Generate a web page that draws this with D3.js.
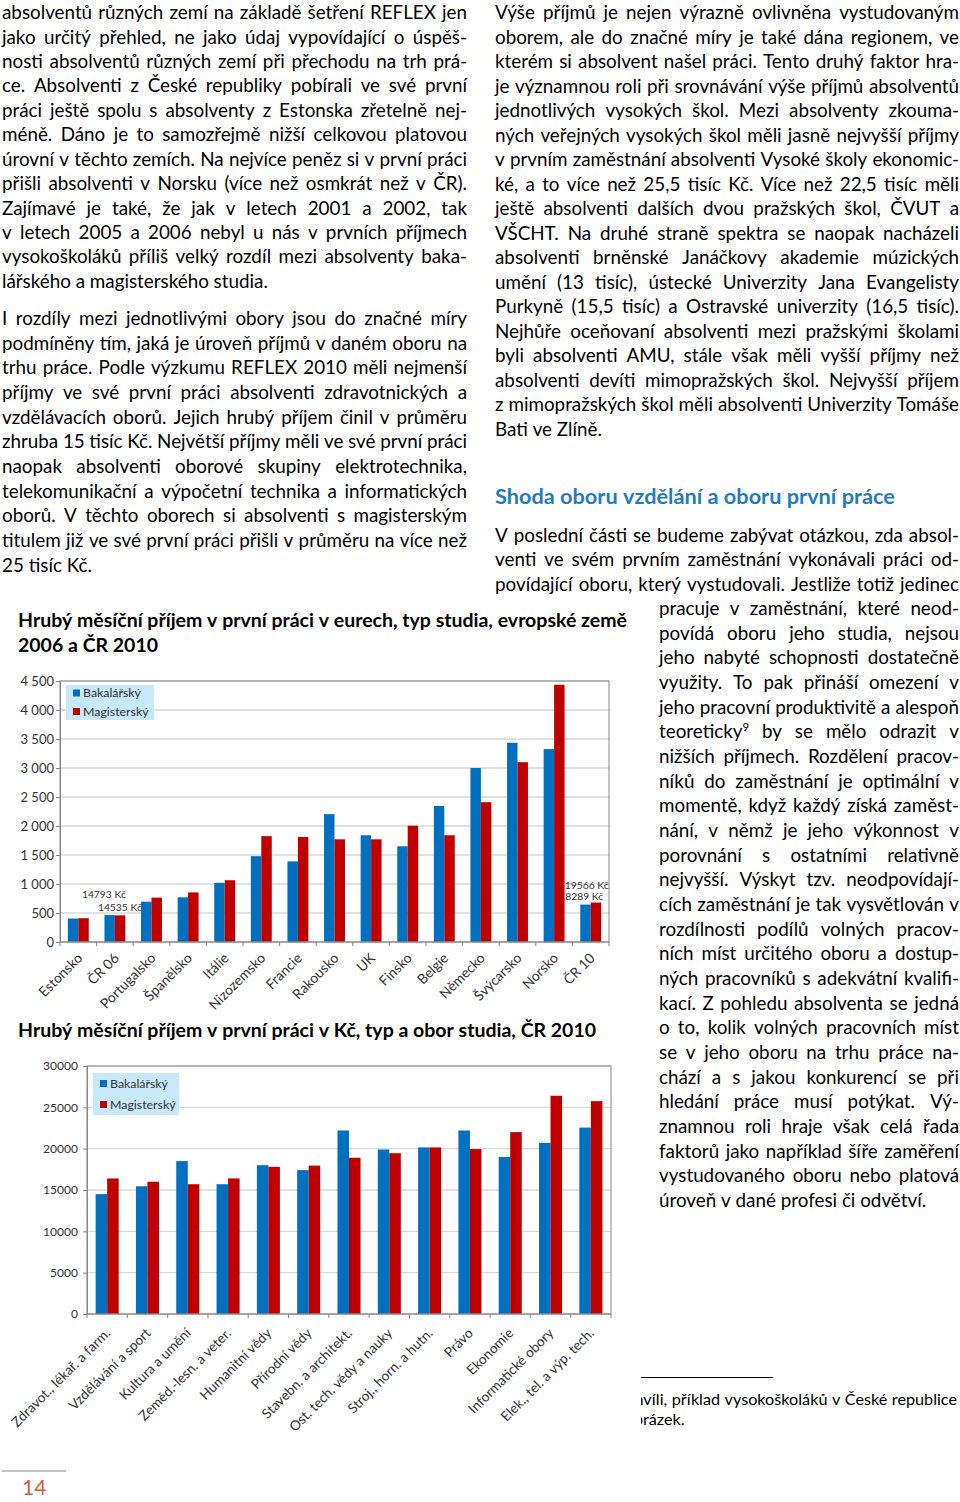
<!DOCTYPE html>
<html lang="cs"><head><meta charset="utf-8">
<script src="https://cdn.jsdelivr.net/npm/d3@7/dist/d3.min.js"></script>
<style>
html,body{margin:0;padding:0;background:#fff;}
#page{position:relative;width:960px;height:1502px;overflow:hidden;}
svg{position:absolute;left:0;top:0;}
</style></head><body><div id="page"></div>
<script>
// ---------- DATA ----------
const countries = ["Estonsko","ČR 06","Portugalsko","Španělsko","Itálie","Nizozemsko","Francie","Rakousko","UK","Finsko","Belgie","Německo","Švýcarsko","Norsko","ČR 10"];
const bak1 = [405, 465, 695, 770, 1020, 1480, 1390, 2205, 1840, 1650, 2345, 3000, 3435, 3325, 645];
const mag1 = [410, 460, 765, 855, 1065, 1825, 1810, 1770, 1770, 2005, 1840, 2410, 3100, 4435, 680];
const ticks1 = [0, 500, 1000, 1500, 2000, 2500, 3000, 3500, 4000, 4500];
const czkLabels1 = [{cat:"ČR 06", text:"14793 Kč"}, {cat:"ČR 06", text:"14535 Kč"}, {cat:"ČR 10", text:"19566 Kč"}, {cat:"ČR 10", text:"18289 Kč"}];

const fields = ["Zdravot., lékař. a farm.","Vzdělávání a sport","Kultura a umění","Zeměd.-lesn. a veter.","Humanitní vědy","Přírodní vědy","Stavebn. a architekt.","Ost. tech. vědy a nauky","Stroj., horn. a hutn.","Právo","Ekonomie","Informatické obory","Elek., tel. a výp. tech."];
const bak2 = [14500, 15450, 18500, 15700, 18000, 17400, 22200, 19900, 20150, 22200, 19000, 20700, 22550];
const mag2 = [16400, 16000, 15700, 16400, 17800, 17950, 18900, 19450, 20150, 19950, 22000, 26400, 25750];
const ticks2 = [0, 5000, 10000, 15000, 20000, 25000, 30000];

const seriesNames = ["Bakalářský", "Magisterský"];

const title1 = ["Hrubý měsíční příjem v první práci v eurech, typ studia, evropské země", "2006 a ČR 2010"];
const title2 = "Hrubý měsíční příjem v první práci v Kč, typ a obor studia, ČR 2010";
const heading = "Shoda oboru vzdělání a oboru první práce";

const leftP1 = [
"absolventů různých zemí na základě šetření REFLEX jen",
"jako určitý přehled, ne jako údaj vypovídající o úspěš-",
"nosti absolventů různých zemí při přechodu na trh prá-",
"ce. Absolventi z České republiky pobírali ve své první",
"práci ještě spolu s absolventy z Estonska zřetelně nej-",
"méně. Dáno je to samozřejmě nižší celkovou platovou",
"úrovní v těchto zemích. Na nejvíce peněz si v první práci",
"přišli absolventi v Norsku (více než osmkrát než v ČR).",
"Zajímavé je také, že jak v letech 2001 a 2002, tak",
"v letech 2005 a 2006 nebyl u nás v prvních příjmech",
"vysokoškoláků příliš velký rozdíl mezi absolventy baka-",
"lářského a magisterského studia."];
const leftP2 = [
"I rozdíly mezi jednotlivými obory jsou do značné míry",
"podmíněny tím, jaká je úroveň příjmů v daném oboru na",
"trhu práce. Podle výzkumu REFLEX 2010 měli nejmenší",
"příjmy ve své první práci absolventi zdravotnických a",
"vzdělávacích oborů. Jejich hrubý příjem činil v průměru",
"zhruba 15 tisíc Kč. Největší příjmy měli ve své první práci",
"naopak absolventi oborové skupiny elektrotechnika,",
"telekomunikační a výpočetní technika a informatických",
"oborů. V těchto oborech si absolventi s magisterským",
"titulem již ve své první práci přišli v průměru na více než",
"25 tisíc Kč."];
const rightP1 = [
"Výše příjmů je nejen výrazně ovlivněna vystudovaným",
"oborem, ale do značné míry je také dána regionem, ve",
"kterém si absolvent našel práci. Tento druhý faktor hra-",
"je významnou roli při srovnávání výše příjmů absolventů",
"jednotlivých vysokých škol. Mezi absolventy zkouma-",
"ných veřejných vysokých škol měli jasně nejvyšší příjmy",
"v prvním zaměstnání absolventi Vysoké školy ekonomic-",
"ké, a to více než 25,5 tisíc Kč. Více než 22,5 tisíc měli",
"ještě absolventi dalších dvou pražských škol, ČVUT a",
"VŠCHT. Na druhé straně spektra se naopak nacházeli",
"absolventi brněnské Janáčkovy akademie múzických",
"umění (13 tisíc), ústecké Univerzity Jana Evangelisty",
"Purkyně (15,5 tisíc) a Ostravské univerzity (16,5 tisíc).",
"Nejhůře oceňovaní absolventi mezi pražskými školami",
"byli absolventi AMU, stále však měli vyšší příjmy než",
"absolventi devíti mimopražských škol. Nejvyšší příjem",
"z mimopražských škol měli absolventi Univerzity Tomáše",
"Bati ve Zlíně."];
const rightP2a = [
"V poslední části se budeme zabývat otázkou, zda absol-",
"venti ve svém prvním zaměstnání vykonávali práci od-",
"povídající oboru, který vystudovali. Jestliže totiž jedinec"];
const rightP2b = [
"pracuje v zaměstnání, které neod-",
"povídá oboru jeho studia, nejsou",
"jeho nabyté schopnosti dostatečně",
"využity. To pak přináší omezení v",
"jeho pracovní produktivitě a alespoň",
"teoreticky^9 by se mělo odrazit v",
"nižších příjmech. Rozdělení pracov-",
"níků do zaměstnání je optimální v",
"momentě, když každý získá zaměst-",
"nání, v němž je jeho výkonnost v",
"porovnání s ostatními relativně",
"nejvyšší. Výskyt tzv. neodpovídají-",
"cích zaměstnání je tak vysvětlován v",
"rozdílnosti podílů volných pracov-",
"ních míst určitého oboru a dostup-",
"ných pracovníků s adekvátní kvalifi-",
"kací. Z pohledu absolventa se jedná",
"o to, kolik volných pracovních míst",
"se v jeho oboru na trhu práce na-",
"chází a s jakou konkurencí se při",
"hledání práce musí potýkat. Vý-",
"znamnou roli hraje však celá řada",
"faktorů jako například šíře zaměření",
"vystudovaného oboru nebo platová",
"úroveň v dané profesi či odvětví."];
const footnote = ["nvíli, příklad vysokoškoláků v České republice", "obrázek."];
const pageNumber = "14";

// ---------- HELPERS ----------
const FONT = "Lato, 'Open Sans', sans-serif";
const ctx = document.createElement("canvas").getContext("2d");
function textW(t, size, weight) { ctx.font = `${weight || 400} ${size}px Lato`; return ctx.measureText(t).width; }
function fitSize(t, target, weight) { return target / textW(t, 100, weight) * 100; }

const svg = d3.select("#page").append("svg").attr("width", 960).attr("height", 1502)
  .attr("font-family", FONT);
const T = svg.append("g");

function drawLine(parent, str, x, y, width, justify, fs, opts = {}) {
  const words = str.split(" ");
  const g = parent.append("g").attr("font-size", fs).attr("fill", opts.fill || "#000")
    .attr("font-weight", opts.weight || 400);
  const nodes = words.map(w => {
    const t = g.append("text").attr("y", y);
    const m = w.match(/^(.*)\^(\d+)$/);
    if (m) {
      t.append("tspan").text(m[1]);
      t.append("tspan").attr("dy", -fs * 0.4).attr("font-size", fs * 0.6).text(m[2]);
    } else t.text(w);
    return t;
  });
  const ws = nodes.map(t => t.node().getComputedTextLength());
  const sum = d3.sum(ws);
  const space = textW(" ", fs, opts.weight);
  const gap = (justify && words.length > 1) ? (width - sum) / (words.length - 1) : space;
  let cx = x;
  nodes.forEach((t, i) => { t.attr("x", cx); cx += ws[i] + gap; });
}
const LH = 24.66;
// first baseline / last baseline give the line pitch of each paragraph
function para(lines, x, yFirst, yLast, width, fs, lastLeft = true) {
  const pitch = lines.length > 1 ? (yLast - yFirst) / (lines.length - 1) : LH;
  lines.forEach((s, i) => drawLine(T, s, x, yFirst + i * pitch, width, !(lastLeft && i === lines.length - 1), fs));
}

// ---------- BODY TEXT ----------
const bodyFs = fitSize("lářského a magisterského studia.", 266);
para(leftP1, 2, 19.2, 287.8, 465, bodyFs);
para(leftP2, 2, 325, 325 + 10 * LH, 465, bodyFs);
para(rightP1, 495, 19.2, 436, 464, bodyFs);
const headFs = fitSize(heading, 400, 700);
drawLine(T, heading, 495, 504, 400, false, headFs, {weight: 700, fill: "#1f7cc1"});
para(rightP2a, 495, 541.7, 541.7 + 2 * LH, 464, bodyFs, false);
para(rightP2b, 659, 615, 615 + 24 * LH, 300, bodyFs);

// chart titles
const titleFs = fitSize(title1[0], 609, 700);
drawLine(T, title1[0], 18, 627, 609, false, titleFs, {weight: 700});
drawLine(T, title1[1], 18, 652, 0, false, titleFs, {weight: 700});
drawLine(T, title2, 18, 1037, 0, false, titleFs, {weight: 700});

// footnote
svg.append("defs").append("clipPath").attr("id", "fnclip")
  .append("rect").attr("x", 641).attr("y", 1385).attr("width", 320).attr("height", 50);
svg.append("line").attr("x1", 641).attr("x2", 773).attr("y1", 1377.5).attr("y2", 1377.5)
  .attr("stroke", "#000").attr("stroke-width", 1);
const fnFs = fitSize("příklad vysokoškoláků v České republice", 284);
const FN = svg.append("g").attr("clip-path", "url(#fnclip)");
const fnX1 = 643.5 - textW("n", fnFs);
drawLine(FN, footnote[0], fnX1, 1405, 957 - fnX1, true, fnFs);
drawLine(FN, footnote[1], 643 - textW("ob", fnFs), 1425, 0, false, fnFs);

// page number
svg.append("line").attr("x1", 2).attr("x2", 66).attr("y1", 1471).attr("y2", 1471)
  .attr("stroke", "#8c8c8c").attr("stroke-width", 1);
svg.append("text").attr("x", 22).attr("y", 1495).attr("font-size", 21).attr("fill", "#d0603e").text(pageNumber);

// ---------- CHART HELPER ----------
const BLUE = "#0070c0", RED = "#c00000", AXIS = "#868686", GRID = "#d9d9d9", TXT = "#333333";

function barChart(cfg) {
  const {cats, b, m, ticks, L, R, Tp, B, fmt, tickFs, tickGap, xFs, xOff, legend, yMax} = cfg;
  const g = svg.append("g");
  const x = d3.scaleBand().domain(cats).range([L, R]);
  const sub = d3.scaleBand().domain([0, 1]).range([0, x.bandwidth()]).paddingOuter(0.75).paddingInner(0);
  const y = d3.scaleLinear().domain([0, yMax]).range([B, Tp]);

  // gridlines
  g.append("g").selectAll("line").data(ticks.filter(v => v > 0)).join("line")
    .attr("x1", L).attr("x2", R).attr("y1", d => y(d)).attr("y2", d => y(d))
    .attr("stroke", GRID).attr("stroke-width", 1.3);

  if (cfg.annot) cfg.annot(g, x, y);

  // bars
  const data = cats.map((c, i) => ({c, v: [b[i], m[i]]}));
  const cg = g.append("g").selectAll("g").data(data).join("g").attr("transform", d => `translate(${x(d.c)},0)`);
  cg.selectAll("rect").data(d => d.v.map((v, k) => ({v, k}))).join("rect")
    .attr("x", d => sub(d.k)).attr("width", sub.bandwidth())
    .attr("y", d => y(d.v)).attr("height", d => B - y(d.v))
    .attr("fill", d => d.k === 0 ? BLUE : RED);

  // border
  g.append("rect").attr("x", L).attr("y", Tp).attr("width", R - L).attr("height", B - Tp)
    .attr("fill", "none").attr("stroke", AXIS).attr("stroke-width", 1);

  // y axis
  const ya = d3.axisLeft(y).tickValues(ticks).tickSize(4).tickPadding(tickGap).tickFormat(fmt);
  const yg = g.append("g").attr("transform", `translate(${L},0)`).call(ya);
  yg.select(".domain").attr("stroke", AXIS);
  yg.selectAll(".tick line").attr("stroke", AXIS);
  yg.selectAll(".tick text").attr("font-size", tickFs).attr("fill", TXT).attr("font-family", FONT);

  // x axis
  const edges = cats.map(c => x(c)).concat([R]);
  g.append("g").selectAll("line").data(edges).join("line")
    .attr("x1", d => d).attr("x2", d => d).attr("y1", B).attr("y2", B + 4).attr("stroke", AXIS);
  g.append("line").attr("x1", L).attr("x2", R).attr("y1", B).attr("y2", B).attr("stroke", AXIS);
  g.append("g").selectAll("text").data(cats).join("text")
    .attr("transform", d => `translate(${x(d) + x.bandwidth() / 2 + xOff[0]},${B + xOff[1]}) rotate(-45)`)
    .attr("text-anchor", "end").attr("font-size", xFs).attr("fill", TXT).text(d => d);

  // legend
  const lg = g.append("g");
  lg.append("rect").attr("x", legend.x).attr("y", legend.y).attr("width", legend.w).attr("height", legend.h).attr("fill", "#c7e9f9");
  seriesNames.forEach((s, i) => {
    const cy = legend.y + legend.c[i];
    lg.append("rect").attr("x", legend.x + legend.sx).attr("y", cy - 3.5).attr("width", 7).attr("height", 7).attr("fill", i ? RED : BLUE);
    lg.append("text").attr("x", legend.x + legend.tx).attr("y", cy + legend.fs * 0.36).attr("font-size", legend.fs).attr("fill", TXT).text(s);
  });
  return {x, y};
}

const locale = d3.formatLocale({decimal: ",", thousands: " ", grouping: [3], currency: ["", ""]});
const legFs = fitSize("Bakalářský", 58);
const annFs = fitSize("14793 Kč", 44);

barChart({
  cats: countries, b: bak1, m: mag1, ticks: ticks1, yMax: 4500,
  L: 60, R: 609, Tp: 681, B: 942, fmt: locale.format(","), tickFs: 13, tickGap: 2,
  xFs: fitSize("Estonsko", 55), xOff: [5, 17],
  legend: {x: 66, y: 685, w: 88, h: 35, c: [8, 26.5], sx: 7, tx: 17, fs: legFs},
  annot: (g, x, y) => {
    const pos = [[-33, -17], [-17, -4], [-26, -13.5], [-31.5, -2.5]];
    g.selectAll("text.ann").data(czkLabels1).join("text").attr("class", "ann")
      .attr("x", (d, i) => x(d.cat) + x.bandwidth() / 2 + pos[i][0])
      .attr("y", (d, i) => y(d.cat === "ČR 06" ? bak1[1] : mag1[14]) + pos[i][1])
      .attr("font-size", annFs).attr("fill", TXT).text(d => d.text);
  }
});

barChart({
  cats: fields, b: bak2, m: mag2, ticks: ticks2, yMax: 30000,
  L: 87, R: 611, Tp: 1066, B: 1314, fmt: d3.format("d"), tickFs: fitSize("30000", 35), tickGap: 5,
  xFs: fitSize("Zdravot., lékař. a farm.", 133), xOff: [4, 20],
  legend: {x: 93, y: 1073, w: 86, h: 42, c: [10.5, 31.5], sx: 7, tx: 17, fs: legFs}
});
</script></body></html>
